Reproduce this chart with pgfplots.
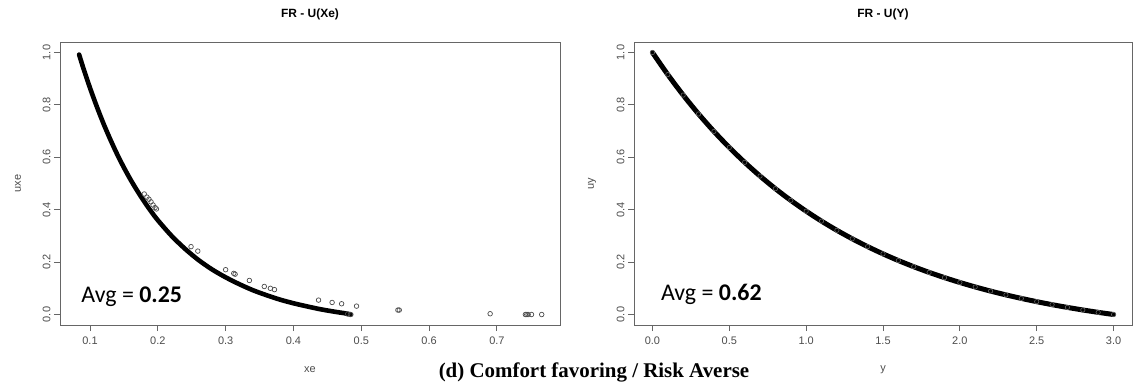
\documentclass[border=0pt]{standalone}
\usepackage{fontspec}
\setmainfont{Liberation Sans}
\newfontfamily\calibri{Carlito}
\newfontfamily\timesfont{Liberation Serif}
\usepackage{pgfplots}
\pgfplotsset{compat=1.18}

% Utility curve U(Xe): dense band of observations
\pgfplotstableread{
x u
0.084 0.992
0.090 0.942
0.100 0.865
0.110 0.794
0.120 0.728
0.130 0.668
0.140 0.612
0.150 0.561
0.160 0.514
0.170 0.471
0.180 0.431
0.190 0.394
0.200 0.360
0.220 0.301
0.240 0.251
0.260 0.208
0.280 0.172
0.300 0.142
0.320 0.116
0.340 0.093
0.360 0.074
0.380 0.057
0.400 0.043
0.420 0.031
0.440 0.020
0.460 0.011
0.475 0.005
0.485 0.000
}\uxecurve

% Scattered observations off the main band
\pgfplotstableread{
x u
0.180 0.460
0.184 0.448
0.187 0.440
0.190 0.430
0.193 0.418
0.196 0.408
0.198 0.403
0.249 0.259
0.259 0.242
0.300 0.171
0.312 0.157
0.314 0.154
0.335 0.130
0.357 0.107
0.366 0.100
0.372 0.095
0.437 0.055
0.457 0.046
0.471 0.041
0.493 0.032
0.480 0.002
0.484 0.000
0.554 0.017
0.556 0.017
0.690 0.003
0.742 0.000
0.744 0.000
0.746 0.000
0.751 0.000
0.766 0.000
}\uxescatter

% Utility curve U(Y)
\pgfplotstableread{
y u
0.0 1.0000
0.1 0.9155
0.2 0.8374
0.3 0.7653
0.4 0.6988
0.5 0.6374
0.6 0.5808
0.7 0.5284
0.8 0.4801
0.9 0.4356
1.0 0.3944
1.1 0.3564
1.2 0.3213
1.3 0.2890
1.4 0.2591
1.5 0.2315
1.6 0.2060
1.7 0.1825
1.8 0.1608
1.9 0.1408
2.0 0.1223
2.1 0.1052
2.2 0.0894
2.3 0.0749
2.4 0.0615
2.5 0.0491
2.6 0.0376
2.7 0.0271
2.8 0.0173
2.9 0.0083
3.0 0.0000
}\uycurve

\definecolor{framegray}{gray}{0.40}
\definecolor{labelgray}{gray}{0.30}

\pgfplotsset{
  rplot/.style={
    scale only axis,
    height=283bp,
    anchor=south west,
    ymin=-0.04, ymax=1.04,
    ytick={0,0.2,0.4,0.6,0.8,1.0},
    axis line style={framegray, line width=0.9bp},
    tick style={framegray, line width=0.9bp},
    major tick length=6bp,
    tick align=outside,
    xtick pos=bottom,
    ytick pos=left,
    /pgf/number format/.cd, fixed, fixed zerofill, precision=1, assume math mode=true,
    /pgfplots/.cd,
    tick label style={font=\fontsize{11}{13}\selectfont, text=labelgray},
    yticklabel style={rotate=90, anchor=south, xshift=0bp},
    xticklabel style={yshift=-2bp},
    title style={font=\bfseries\fontsize{12}{14}\selectfont, at={(0.5,1.076)}, anchor=center},
    xlabel style={font=\fontsize{11}{13}\selectfont, text=labelgray, at={(0.5,-0.159)}, anchor=center},
    ylabel style={font=\fontsize{11}{13}\selectfont, text=labelgray, anchor=center},
    every axis plot/.append style={black},
  },
}

\begin{document}
\begin{tikzpicture}
\path[use as bounding box] (0bp,0bp) rectangle (1133bp,385bp);

\begin{axis}[rplot,
  at={(60bp,60bp)}, width=500bp,
  xmin=0.0558, xmax=0.793,
  xtick={0.1,0.2,0.3,0.4,0.5,0.6,0.7},
  title={FR - U(Xe)}, xlabel={xe}, ylabel={uxe},
  ylabel style={at={(-0.084,0.5)}},
]
\addplot[line width=4.6bp, smooth, line cap=round, mark=none] table[x=x, y=u] {\uxecurve};
\addplot[only marks, mark=o, mark size=2.3bp, mark options={line width=0.7bp, black!70}] table[x=x, y=u] {\uxescatter};
\node[anchor=base west, font=\calibri\fontsize{24}{28}\selectfont] at (axis cs:0.0823,0.047) {Avg = \textbf{0.25}};
\end{axis}

\begin{axis}[rplot,
  at={(634bp,60bp)}, width=498bp,
  xmin=-0.12, xmax=3.12,
  xtick={0,0.5,1.0,1.5,2.0,2.5,3.0},
  title={FR - U(Y)}, xlabel={y}, ylabel={uy},
  ylabel style={at={(-0.0843,0.5)}},
]
\addplot[line width=5bp, smooth, line cap=round, mark=none] table[x=y, y=u] {\uycurve};
\addplot[only marks, mark=o, mark size=2.2bp, mark options={line width=0.6bp, black!60}] table[x=y, y=u] {\uycurve};
\node[anchor=base west, font=\calibri\fontsize{24}{28}\selectfont] at (axis cs:0.033,0.052) {Avg = \textbf{0.62}};
\end{axis}

\node[anchor=base, font=\timesfont\bfseries\fontsize{21}{24}\selectfont] at (594bp,8bp) {(d) Comfort favoring / Risk Averse};
\end{tikzpicture}
\end{document}
